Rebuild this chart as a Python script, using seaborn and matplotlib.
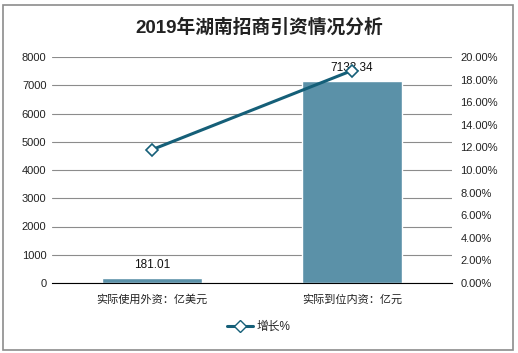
import matplotlib
matplotlib.use("Agg")
import matplotlib.pyplot as plt
import seaborn as sns
import pandas as pd
from matplotlib.lines import Line2D
from matplotlib.patches import Rectangle
from matplotlib.ticker import FuncFormatter, MultipleLocator

categories = ["实际使用外资：亿美元", "实际到位内资：亿元"]
values = [181.01, 7133.34]
growth = [11.8, 18.8]
title = "2019年湖南招商引资情况分析"
legend_label = "增长%"

sns.set_theme(style="white")
plt.rcParams['font.family'] = ['Liberation Sans', 'Noto Sans CJK SC', 'DejaVu Sans']

bar_color = "#5b91a8"
line_color = "#155f78"

fig = plt.figure(figsize=(5.18, 3.53), dpi=100)
ax = fig.add_axes([52/518, 1-283/353, 400/518, 226/353])

df = pd.DataFrame({"cat": categories, "val": values, "g": growth})
sns.barplot(data=df, x="cat", y="val", ax=ax, color=bar_color, width=0.5, saturation=1)
ax.set_ylim(0, 8000)
ax.yaxis.set_major_locator(MultipleLocator(1000))
ax.grid(axis="y", color="#8c8c8c", linewidth=0.8)
ax.set_axisbelow(True)
for s in ["top", "right", "left"]:
    ax.spines[s].set_visible(False)
ax.spines["bottom"].set_color("#000000")
ax.spines["bottom"].set_linewidth(0.8)
ax.set_xlabel("")
ax.set_ylabel("")
ax.tick_params(axis="y", labelsize=8, colors="#222222", length=0, pad=4)
ax.tick_params(axis="x", labelsize=8, colors="#222222", length=0, pad=8)
for i, v in enumerate(values):
    ax.text(i, v + 250, f"{v:.2f}", ha="center", va="bottom", fontsize=8.5, color="#111111")

ax2 = ax.twinx()
sns.pointplot(data=df, x="cat", y="g", ax=ax2, color=line_color, markers="D",
              linestyles="-", markersize=6, linewidth=2.2,
              markerfacecolor="white", markeredgecolor=line_color, markeredgewidth=1.2)
ax2.set_ylim(0, 20)
ax2.yaxis.set_major_locator(MultipleLocator(2))
ax2.yaxis.set_major_formatter(FuncFormatter(lambda v, p: f"{v:.2f}%"))
ax2.tick_params(axis="y", labelsize=8, colors="#222222", length=0, pad=6)
for s in ["top", "right", "left", "bottom"]:
    ax2.spines[s].set_visible(False)
ax2.set_ylabel("")
ax2.set_xlabel("")
ax.set_xlim(-0.5, 1.5)
ax2.set_xlim(-0.5, 1.5)

fig.suptitle(title, y=1-28/353, va="center", fontsize=13.5, fontweight="bold", color="#222222")

handle = Line2D([], [], color=line_color, linewidth=2.2, marker="D", markersize=6,
                markerfacecolor="white", markeredgecolor=line_color)
fig.legend([handle], [legend_label], loc="center", bbox_to_anchor=(0.5, 1-327/353),
           frameon=False, fontsize=8.5, handlelength=2.2, handletextpad=0.3)

fig.patches.append(Rectangle((3/518, 3/353), 510/518, 345/353, transform=fig.transFigure,
                             fill=False, edgecolor="#8c8c8c", linewidth=1.2))

fig.savefig("out.png", dpi=100)
